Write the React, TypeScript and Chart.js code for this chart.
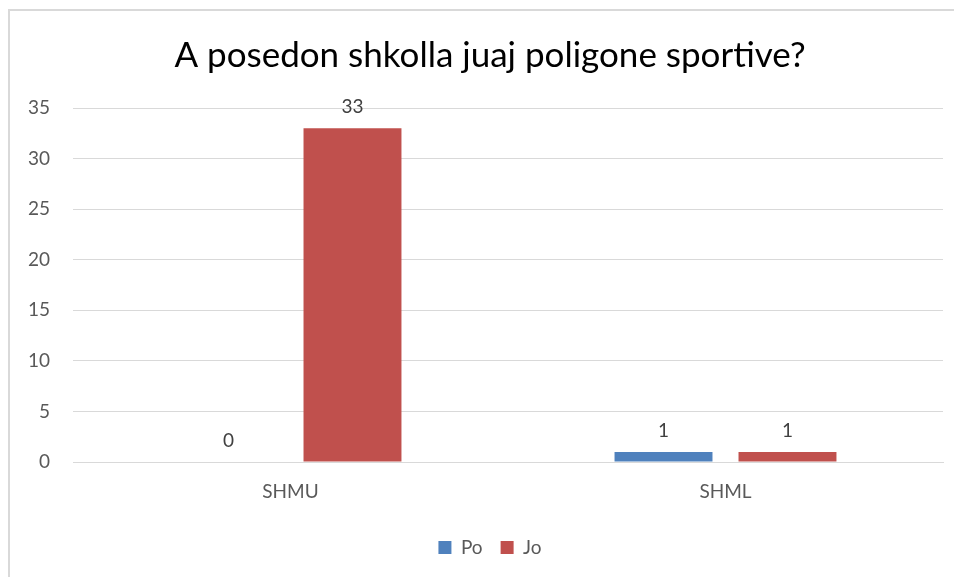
import React, { useEffect, useRef } from "react";
import { Chart, registerables } from "chart.js";

Chart.register(...registerables);

const categories = ["SHMU", "SHML"];
const seriesNames = ["Po", "Jo"];
const poValues = [0, 1];
const joValues = [33, 1];
const yTicks = [0, 5, 10, 15, 20, 25, 30, 35];

const FONT = "Lato, 'Open Sans', sans-serif";

const dataLabels = {
  id: "dataLabels",
  afterDatasetsDraw(chart: any) {
    const ctx = chart.ctx;
    ctx.save();
    ctx.font = `19px ${FONT}`;
    ctx.fillStyle = "#404040";
    ctx.textAlign = "center";
    ctx.textBaseline = "middle";
    chart.data.datasets.forEach((ds: any, i: number) => {
      const meta = chart.getDatasetMeta(i);
      meta.data.forEach((el: any, j: number) => {
        ctx.fillText(String(ds.data[j]), el.x, el.y - 21);
      });
    });
    ctx.restore();
  },
};

// widen the y scale's label area to the canvas edge so tick labels are not clipped
const widenYArea = {
  id: "widenYArea",
  afterLayout(chart: any) {
    const y = chart.scales.y;
    if (y) y.left = 0;
  },
};

export default function App() {
  const ref = useRef<HTMLCanvasElement | null>(null);
  useEffect(() => {
    if (!ref.current) return;
    const chart = new Chart(ref.current, {
      type: "bar",
      data: {
        labels: categories,
        datasets: [
          {
            label: seriesNames[0],
            data: poValues,
            backgroundColor: "#4F81BD",
            categoryPercentage: 0.57,
            barPercentage: 0.79,
          },
          {
            label: seriesNames[1],
            data: joValues,
            backgroundColor: "#C0504D",
            categoryPercentage: 0.57,
            barPercentage: 0.79,
          },
        ],
      },
      options: {
        animation: false,
        responsive: false,
        maintainAspectRatio: false,
        layout: { padding: { left: 37, right: 11, top: 0, bottom: 10 } },
        plugins: {
          title: {
            display: true,
            text: "A posedon shkolla juaj poligone sportive?",
            color: "#000000",
            font: { family: FONT, size: 35, weight: "normal" },
            padding: { top: 35, bottom: 31 },
          },
          legend: {
            position: "bottom",
            labels: {
              boxWidth: 13,
              boxHeight: 13,
              color: "#595959",
              font: { family: FONT, size: 19 },
              padding: 18,
            },
          },
          tooltip: { enabled: false },
        },
        scales: {
          x: {
            grid: { display: false },
            border: { display: true, color: "#d9d9d9", width: 1 },
            ticks: { color: "#595959", font: { family: FONT, size: 19 }, padding: 10 },
            afterFit(scale: any) {
              scale.height = 58;
            },
          },
          y: {
            min: 0,
            max: 35,
            afterBuildTicks(scale: any) {
              scale.ticks = yTicks.map((v) => ({ value: v }));
            },
            grid: { color: "#d9d9d9", lineWidth: 1, drawTicks: false },
            border: { display: false },
            ticks: { color: "#595959", font: { family: FONT, size: 19 }, padding: 23 },
            afterFit(scale: any) {
              scale.width = 36;
            },
          },
        },
      },
      plugins: [dataLabels, widenYArea],
    });
    return () => chart.destroy();
  }, []);
  return (
    <div style={{ position: "fixed", left: 0, top: 0, width: 954, height: 577, overflow: "hidden", background: "#fff" }}>
      <div
        style={{
          position: "absolute",
          left: 8,
          top: 9,
          width: 1000,
          height: 1000,
          border: "2px solid #d9d9d9",
          boxSizing: "border-box",
        }}
      />
      <canvas ref={ref} width={954} height={577} style={{ position: "absolute", left: 0, top: 0 }} />
    </div>
  );
}
